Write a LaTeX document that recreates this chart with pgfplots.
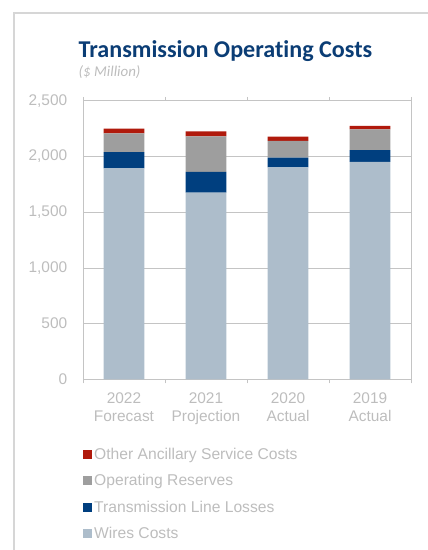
\documentclass[border=0pt]{standalone}
\usepackage{pgfplots}
\pgfplotsset{compat=1.18}
\usepackage{fontspec}
\setmainfont{Liberation Sans}
\newfontfamily\calibri[Ligatures=NoCommon]{Carlito}
\definecolor{wires}{HTML}{ADBDCB}
\definecolor{losses}{HTML}{003F7F}
\definecolor{reserves}{HTML}{9E9E9E}
\definecolor{other}{HTML}{B01A0C}
\definecolor{titleblue}{HTML}{0B3D75}
\definecolor{labgray}{HTML}{BDBDBD}
\definecolor{gridgray}{HTML}{C4C4C4}
\definecolor{framegray}{HTML}{D6D6D6}
\begin{document}
\begin{tikzpicture}[x=1bp,y=1bp]
\useasboundingbox (0,0) rectangle (427,550);
\draw[framegray, line width=1.5bp] (14,-2) -- (14,537) -- (430,537);
\node[anchor=base west, inner sep=0, text=titleblue, font=\calibri\bfseries\fontsize{24.2}{28}\selectfont] at (78.5,492.5) {Transmission Operating Costs};
\node[anchor=base west, inner sep=0, text=labgray, font=\calibri\itshape\fontsize{15}{18}\selectfont] at (78.5,473.5) {(\$ Million)};
\begin{axis}[
  at={(83bp,170.7bp)}, anchor=south west,
  scale only axis, width=328bp, height=278.4bp,
  ybar stacked, bar width=40.7bp,
  xmin=0, xmax=4, ymin=0, ymax=2500,
  xtick={0.5,1.5,2.5,3.5},
  xticklabels={{2022\\Forecast},{2021\\Projection},{2020\\Actual},{2019\\Actual}},
  minor xtick={0,1,2,3,4},
  major x tick style={draw=none},
  minor x tick style={gridgray, line width=0.8bp},
  minor tick length=4bp,
  tick align=outside,
  ytick={0,500,1000,1500,2000,2500},
  ytick style={draw=none},
  ymajorgrids, grid style={gridgray, line width=0.8bp},
  axis line style={gridgray, line width=0.8bp},
  xticklabel style={align=center, text=labgray, font=\fontsize{15.5}{17.9}\selectfont, yshift=-6bp},
  yticklabel style={text=labgray, font=\fontsize{15.5}{18}\selectfont, xshift=-8bp},
  /pgf/number format/.cd, 1000 sep={,}, assume math mode=true,
  /pgfplots/.cd,
  legend style={draw=none, fill=none, at={(0,-0.240)}, anchor=north west, inner sep=0pt,
    font=\fontsize{15.7}{18}\selectfont, text=labgray, row sep=9.4bp,
    cells={anchor=west}},
  legend cell align=left,
  reverse legend,
  legend image code/.code={\fill[#1, draw=none] (0bp,-4.5bp) rectangle (9bp,4.5bp);},
]
\addplot[fill=wires, draw=none] coordinates {(0.5,1895) (1.5,1677) (2.5,1904) (3.5,1952)};
\addplot[fill=losses, draw=none] coordinates {(0.5,144) (1.5,185) (2.5,87) (3.5,105)};
\addplot[fill=reserves, draw=none] coordinates {(0.5,170) (1.5,320) (2.5,149) (3.5,188)};
\addplot[fill=other, draw=none] coordinates {(0.5,42) (1.5,45) (2.5,40) (3.5,30)};
\legend{Wires Costs, Transmission Line Losses, Operating Reserves, Other Ancillary Service Costs}
\end{axis}
\end{tikzpicture}
\end{document}
